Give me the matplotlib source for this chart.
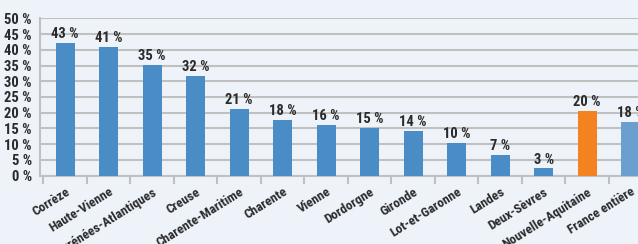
import matplotlib
matplotlib.use("Agg")
import matplotlib.pyplot as plt
from matplotlib.ticker import FixedLocator

categories = ["Corrèze", "Haute-Vienne", "Pyrénées-Atlantiques", "Creuse",
              "Charente-Maritime", "Charente", "Vienne", "Dordorgne", "Gironde",
              "Lot-et-Garonne", "Landes", "Deux-Sèvres", "Nouvelle-Aquitaine",
              "France entière"]
values = [42.3, 40.9, 35.2, 31.7, 21.3, 17.7, 16.1, 15.2, 14.2, 10.4, 6.6, 2.4, 20.6, 17.1]
value_labels = ["43 %", "41 %", "35 %", "32 %", "21 %", "18 %", "16 %", "15 %", "14 %",
                "10 %", "7 %", "3 %", "20 %", "18 %"]
y_ticks = [0, 5, 10, 15, 20, 25, 30, 35, 40, 45, 50]
y_tick_labels = [f"{v} %" for v in y_ticks]

colors = ["#4a8dc6"] * 12 + ["#f58220", "#6a9fd0"]
bg = "#eef3fa"
text_color = "#2b2b2b"
font = ["Liberation Sans Narrow", "Arial Narrow", "Roboto Condensed",
        "Barlow Semi Condensed", "DejaVu Sans"]

fig = plt.figure(figsize=(6.38, 2.44), dpi=100, facecolor=bg)
ax = fig.add_axes([40 / 638, (244 - 175.7) / 244, 1 - 40 / 638, (175.7 - 18.3) / 244])
ax.set_facecolor(bg)

x = list(range(len(categories)))
ax.bar(x, values, width=0.44, color=colors, zorder=3)

for xi, v, lab in zip(x, values, value_labels):
    ax.text(xi, v + 0.5, lab, ha="center", va="bottom", fontsize=10.5,
            fontweight="bold", color=text_color, family=font, zorder=4)

ax.set_ylim(0, 50)
ax.set_xlim(-0.58, 13.17)
ax.set_yticks(y_ticks)
ax.set_yticklabels(y_tick_labels, fontsize=10.5, fontweight="bold",
                   color=text_color, family=font)
ax.tick_params(axis="y", length=0, pad=6)

ax.set_xticks(x)
ax.set_xticklabels(categories, rotation=32, ha="right", va="top",
                   rotation_mode="anchor", fontsize=9.5, fontweight="bold",
                   color=text_color, family=font)
ax.tick_params(axis="x", which="major", length=0, pad=7)
ax.xaxis.set_minor_locator(FixedLocator([i + 0.5 for i in range(-1, 14)]))
ax.tick_params(axis="x", which="minor", length=6, width=1.5, color="#c0c0c0")

ax.grid(axis="y", color="#c0c0c0", linewidth=1.5, zorder=0)
for s in ["top", "right"]:
    ax.spines[s].set_visible(False)
for s in ["left", "bottom"]:
    ax.spines[s].set_color("#c0c0c0")
    ax.spines[s].set_linewidth(1.5)

fig.savefig("out.png", dpi=100, facecolor=bg)
